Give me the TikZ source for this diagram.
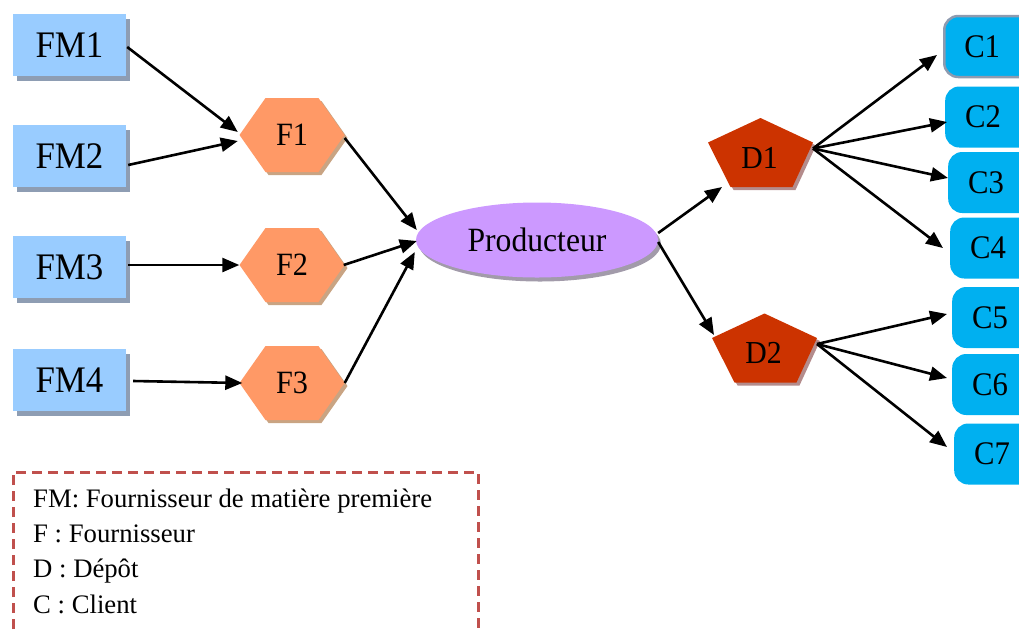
\documentclass[tikz,border=0pt]{standalone}
\usepackage{fontspec}
\setmainfont{Liberation Serif}
\newfontfamily\nodefont[FakeStretch=0.93]{Liberation Serif}
\usetikzlibrary{arrows.meta,shadows,shapes.geometric}
\definecolor{fmfill}{HTML}{99CCFF}
\definecolor{fmshadow}{HTML}{8E9DB3}
\definecolor{ffill}{HTML}{FF9966}
\definecolor{fshadow}{HTML}{C9A483}
\definecolor{pfill}{HTML}{CC99FF}
\definecolor{pshadow}{HTML}{A29BAA}
\definecolor{dfill}{HTML}{CC3300}
\definecolor{dshadow}{HTML}{B48C8C}
\definecolor{cfill}{HTML}{00B0F0}
\definecolor{cborder}{HTML}{8E9BB0}
\definecolor{legred}{HTML}{C0504D}
\newcommand\hexa[4]{% name, cx, cy, label
  \fill[fshadow, shift={(#2+3,#3+3)}] (-52.5,0) -- (-26.5,-37) -- (26.5,-37) -- (52.5,0) -- (26.5,37) -- (-26.5,37) -- cycle;
  \fill[ffill, shift={(#2,#3)}] (-52.5,0) -- (-26.5,-37) -- (26.5,-37) -- (52.5,0) -- (26.5,37) -- (-26.5,37) -- cycle;
  \node[fnode] (#1) at (#2,#3) {#4};}
\newcommand\penta[4]{% name, cx, cy, label
  \fill[dshadow, shift={(#2+3,#3+3)}] (0,-34.5) -- (52.5,-10) -- (32,34.5) -- (-30,34.5) -- (-52.5,-10) -- cycle;
  \fill[dfill, shift={(#2,#3)}] (0,-34.5) -- (52.5,-10) -- (32,34.5) -- (-30,34.5) -- (-52.5,-10) -- cycle;
  \node[dnode] (#1) at (#2-1,#3+5) {#4};
  \coordinate (#1r) at (#2+52.5,#3-4);}
\begin{document}
\begin{tikzpicture}[x=1pt,y=-1pt,
  fmbox/.style={rectangle, fill=fmfill, minimum width=113pt, minimum height=62pt, inner sep=0pt,
    font=\nodefont\fontsize{37.5}{40}\selectfont,
    drop shadow={shadow xshift=3.5pt, shadow yshift=-4.5pt, fill=fmshadow, opacity=1}},
  fnode/.style={rectangle, minimum width=105pt, minimum height=74pt, inner sep=0pt,
    font=\nodefont\fontsize{32.5}{34}\selectfont},
  dnode/.style={rectangle, minimum width=105pt, minimum height=50pt, inner sep=0pt,
    font=\nodefont\fontsize{32}{33}\selectfont},
  prodnode/.style={ellipse, fill=pfill, minimum width=242pt, minimum height=75pt, inner sep=0pt,
    font=\nodefont\fontsize{34}{35}\selectfont,
    drop shadow={shadow xshift=3pt, shadow yshift=-4pt, fill=pshadow, opacity=1}},
  cnode/.style={rectangle, rounded corners=14pt, fill=cfill, anchor=west, minimum height=61pt,
    inner xsep=20pt, inner ysep=0pt, text width=70pt, align=left,
    font=\nodefont\fontsize{33}{34}\selectfont},
  legtext/.style={anchor=base west, inner sep=0pt, font=\fontsize{26.7}{30}\selectfont},
  arr/.style={-{Triangle[length=17pt,width=14pt]}, line width=2.6pt}]
\useasboundingbox (0,0) rectangle (1019,630);
\clip (0,0) rectangle (1019,630);

% suppliers of raw material
\node[fmbox] (FM1) at (69.5,45) {FM1};
\node[fmbox] (FM2) at (69.5,156) {FM2};
\node[fmbox] (FM3) at (69.5,267) {FM3};
\node[fmbox] (FM4) at (69.5,380) {FM4};

% suppliers
\hexa{F1}{292}{135}{F1}
\hexa{F2}{292}{265}{F2}
\hexa{F3}{292}{383}{F3}

% producer
\node[prodnode] (P) at (537,240) {Producteur};

% depots
\penta{D1}{760.5}{152.5}{D1}
\penta{D2}{764.5}{348}{D2}

% clients
\node[cnode, draw=cborder, line width=2.5pt] (C1) at (943,46.5) {C1};
\node[cnode] (C2) at (945,117) {C2};
\node[cnode] (C3) at (948,182.5) {C3};
\node[cnode] (C4) at (950,248) {C4};
\node[cnode] (C5) at (952,317.5) {C5};
\node[cnode] (C6) at (952,384.5) {C6};
\node[cnode] (C7) at (954,454) {C7};

% connectors
\draw[arr] ([shift={(1,2)}]FM1.east) -- ([shift={(-1.5,-3)}]F1.west);
\draw[arr] ([shift={(2,9)}]FM2.east) -- ([shift={(-1.5,6)}]F1.west);
\draw[arr] ([shift={(2,-2)}]FM3.east) -- (F2.west);
\draw[arr] ([shift={(7,1)}]FM4.east) -- ([shift={(3,0)}]F3.west);

\draw[arr] ([shift={(0,3)}]F1.east) -- ([shift={(1,-10)}]P.west);
\draw[arr] ([shift={(-1,0)}]F2.east) -- ([shift={(1,1)}]P.west);
\draw[arr] (F3.east) -- ([shift={(-1,12)}]P.west);

\draw[arr] ([shift={(0,-7)}]P.east) -- ([shift={(-37.5,29.5)}]D1.center);
\draw[arr] ([shift={(0,2)}]P.east) -- ([shift={(-49.5,-18)}]D2.center);

\draw[arr] (D1r) -- ([shift={(-6,8.5)}]C1.west);
\draw[arr] (D1r) -- ([shift={(2,5)}]C2.west);
\draw[arr] (D1r) -- ([shift={(0,-4.5)}]C3.west);
\draw[arr] (D1r) -- ([shift={(-7,0)}]C4.west);
\draw[arr] (D2r) -- ([shift={(-5,-3.5)}]C5.west);
\draw[arr] (D2r) -- ([shift={(-5,-6.5)}]C6.west);
\draw[arr] (D2r) -- ([shift={(-7,-7)}]C7.west);

% legend
\draw[legred, line width=3pt, dash pattern=on 10pt off 6pt] (13,645) -- (13,472) -- (478,472) -- (478,645);
\node[legtext] (L1) at (33,507) {FM: Fournisseur de matière première};
\node[legtext] (L2) at (33,542) {F : Fournisseur};
\node[legtext] (L3) at (33,577) {D : Dépôt};
\node[legtext] (L4) at (33,613) {C : Client};
\end{tikzpicture}
\end{document}
